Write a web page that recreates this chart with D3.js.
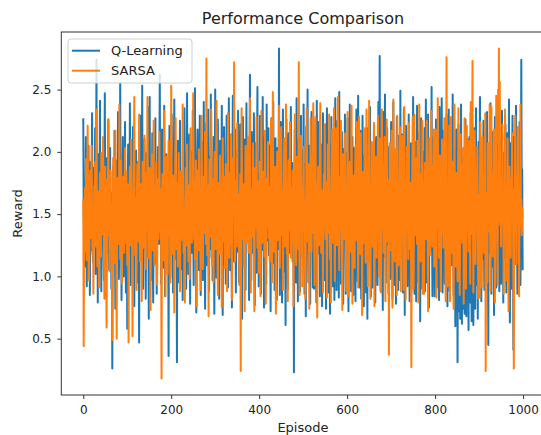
<!DOCTYPE html>
<html>
	<head>
		<meta charset="utf-8">
		<title>Performance Comparison</title>
		<script src="https://d3js.org/d3.v7.min.js"></script>
		<style>
			body { margin: 0; background: #fff; }
			text { font-family: "DejaVu Sans", sans-serif; fill: #222; }
		</style>
	</head>
	<body>
		<script>

			// reward per episode (index = episode)
			var qLearning = [
				2.27,1.52,1.31,1.74,1.08,1.63,2.12,1.45,0.92,1.57,1.81,1.38,2.05,1.26,1.69,0.85,1.48,1.92,1.59,1.21,2.31,1.44,1.12,1.66,1.87,
				1.33,1.58,2.19,1.02,1.47,2.74,1.39,1.71,0.79,1.55,1.98,1.28,1.62,2.41,1.17,1.5,0.88,1.84,1.43,1.66,2.08,1.24,0.97,1.76,2.47,
				1.36,1.6,0.83,1.49,1.95,1.18,1.72,2.26,1.41,1.05,1.58,2.03,1.3,1.67,0.9,1.53,0.26,1.44,1.88,1.62,1.15,2.17,1.37,0.74,1.7,
				1.55,1.93,1.22,1.46,2.32,1.64,0.98,1.4,1.81,2.55,1.27,1.6,0.81,1.49,1.75,2.12,1.34,1.0,1.69,1.52,2.24,1.29,0.87,1.73,1.45,
				0.58,1.64,2.06,1.39,1.78,1.19,2.39,1.51,0.93,1.67,1.85,1.32,1.56,2.2,1.1,1.48,0.76,1.82,1.6,1.37,2.01,1.25,1.73,0.95,1.58,
				1.92,1.35,0.47,1.53,1.76,2.29,1.42,1.13,1.65,2.53,1.31,0.9,1.7,1.54,2.1,1.23,1.84,0.82,1.47,1.99,1.61,1.16,2.36,1.4,0.66,
				1.74,2.44,1.28,1.56,0.97,1.83,1.46,2.15,1.2,0.79,1.62,1.91,1.37,1.68,2.27,1.11,1.5,0.86,1.79,1.43,2.04,1.58,1.26,1.89,2.62,
				1.31,1.7,0.94,1.52,2.18,1.39,1.85,1.07,1.63,2.37,1.45,0.84,1.71,1.58,1.98,1.29,1.1,1.75,1.5,0.36,1.66,2.21,1.42,0.99,1.8,
				1.57,2.3,1.24,1.69,0.87,1.48,1.93,2.42,1.35,1.62,1.14,1.81,1.45,0.31,1.72,2.09,1.4,1.55,0.95,1.87,2.25,1.3,1.64,1.06,1.78,
				1.43,0.81,1.6,1.95,1.27,2.35,1.52,1.12,1.74,0.9,1.66,2.47,1.38,1.57,1.02,1.83,2.14,1.34,0.78,1.62,1.48,2.0,1.19,1.71,2.33,
				1.47,0.93,1.81,1.55,2.51,1.3,1.68,0.71,1.42,1.92,2.18,1.24,1.59,1.05,1.77,2.29,1.44,0.85,1.63,1.36,2.08,1.5,0.97,1.74,2.4,
				1.28,1.65,0.74,1.51,2.23,1.37,1.84,1.09,1.6,2.34,1.43,0.88,1.7,1.96,1.22,2.46,1.55,1.15,1.79,0.97,1.48,2.12,1.33,0.7,1.67,
				2.5,1.41,1.73,0.99,1.56,1.9,2.26,1.32,1.64,0.82,1.47,2.09,1.76,1.21,1.58,2.37,1.35,0.69,1.82,1.52,2.2,1.1,1.69,1.44,0.94,
				1.86,2.29,1.39,1.61,0.91,1.75,2.43,1.27,1.53,1.05,1.88,2.14,1.44,0.75,1.66,2.45,1.31,1.57,1.12,1.8,2.18,1.4,0.87,1.7,2.01,
				1.46,1.2,2.33,1.62,0.95,1.5,1.79,2.22,1.36,1.68,1.1,0.66,1.55,2.28,1.43,1.85,1.25,2.1,1.6,0.89,1.73,2.39,1.34,1.54,2.04,
				1.3,1.63,0.81,1.77,2.62,1.41,1.58,0.97,2.16,1.49,1.87,1.19,1.64,2.31,1.37,0.77,1.72,2.07,1.45,1.03,1.91,2.52,1.26,1.6,0.92,
				1.83,1.52,2.29,1.35,0.86,1.67,1.99,1.44,2.44,1.21,1.58,0.75,1.76,2.13,1.4,1.62,0.94,2.38,1.5,1.29,1.85,2.19,1.17,1.69,2.05,
				1.36,0.72,1.64,2.27,1.48,1.8,1.11,2.4,1.55,1.74,0.89,1.93,2.11,1.41,1.6,0.81,2.03,1.47,1.86,1.22,2.83,1.53,0.85,1.7,2.24,
				1.42,1.62,0.79,1.98,2.34,1.5,1.73,1.04,2.08,1.43,0.61,1.78,2.26,1.37,1.67,0.9,1.94,2.15,1.46,1.19,1.85,1.59,2.36,1.28,1.6,
				1.91,1.12,1.51,1.7,0.23,1.56,2.18,1.44,1.84,0.95,2.43,1.4,1.65,0.8,1.97,2.1,1.52,1.33,0.88,1.79,2.29,1.47,1.16,1.75,2.01,
				1.44,2.38,1.36,0.86,1.9,1.58,0.68,2.2,1.48,1.73,2.5,1.32,0.95,1.67,2.05,1.41,0.78,1.88,1.56,2.32,1.27,1.62,0.91,1.96,1.47,
				0.9,1.8,2.13,1.42,1.64,0.79,2.41,1.55,1.18,1.87,2.24,1.35,1.6,0.84,1.93,1.46,2.06,1.71,0.76,1.52,2.31,1.38,1.78,0.97,1.6,
				2.22,1.33,0.74,1.69,2.35,1.5,1.84,0.87,1.58,2.07,1.42,0.7,1.95,1.57,2.28,1.21,1.73,0.92,2.14,1.46,1.62,0.81,1.99,2.43,1.34,
				1.55,0.89,1.96,2.25,1.43,1.74,0.83,2.48,1.52,1.26,1.85,0.94,1.67,2.16,1.41,1.6,0.78,2.02,1.48,1.8,2.3,1.29,0.86,1.71,1.99,
				1.37,2.27,1.56,0.72,1.82,1.45,2.38,1.18,1.63,0.88,1.97,1.51,2.12,1.33,0.85,1.75,2.03,1.44,1.58,0.8,1.92,2.34,1.4,1.66,0.96,
				2.45,1.47,1.77,0.91,1.54,2.17,1.36,0.82,1.89,1.56,2.29,1.22,1.71,0.76,1.97,1.46,2.08,1.6,0.87,1.83,1.41,0.66,2.19,1.55,1.74,
				1.12,1.91,2.36,1.38,0.84,1.68,2.05,1.5,0.91,1.86,1.43,2.23,1.27,1.59,0.79,1.96,2.12,1.4,1.72,0.93,1.57,2.4,1.31,1.81,2.77,
				1.33,0.88,1.79,2.1,1.45,1.65,0.73,2.32,1.52,1.16,1.91,2.46,1.38,0.95,1.7,1.48,2.19,1.26,1.83,0.86,1.57,2.04,1.42,0.98,1.88,
				2.24,1.32,1.6,0.82,1.94,2.4,1.42,1.73,0.93,2.01,1.5,0.78,1.85,2.28,1.3,1.55,0.89,2.13,1.45,1.69,0.97,2.49,1.37,1.78,1.16,
				1.49,2.14,0.87,1.72,2.35,1.4,0.69,1.9,1.51,2.21,1.24,1.63,0.92,1.98,1.44,2.3,1.33,0.8,1.84,1.56,2.07,1.46,0.9,1.75,1.52,
				2.44,1.28,1.66,0.86,1.88,2.08,1.43,0.8,1.73,2.37,1.36,1.52,0.95,2.15,1.48,1.8,0.64,1.95,2.27,1.4,1.61,0.9,2.0,1.53,1.22,
				1.76,2.19,0.88,1.53,2.42,1.45,0.95,1.82,1.31,2.3,1.6,0.75,1.91,1.5,2.04,1.2,1.7,2.52,1.38,0.84,1.87,1.55,2.12,1.27,0.84,
				1.96,1.47,2.26,1.18,0.91,1.68,2.11,1.41,1.81,0.81,2.36,1.57,1.14,1.93,1.45,2.43,1.29,0.87,1.74,2.17,1.39,1.6,0.94,2.0,1.51,
				1.22,2.3,1.59,0.76,1.88,1.44,2.34,1.32,0.88,1.79,2.09,1.48,1.09,1.95,1.53,2.46,1.33,0.85,1.71,2.02,1.42,0.6,1.64,2.18,1.46,
				1.84,0.31,1.62,2.22,0.72,1.9,1.45,0.66,1.77,2.38,1.38,0.62,1.95,1.55,0.74,2.03,1.6,0.7,1.86,2.26,1.29,0.68,1.95,1.5,2.1,
				1.38,0.57,1.73,2.12,0.79,1.86,2.31,1.2,0.64,1.6,2.0,1.47,0.61,1.79,2.19,1.27,0.74,1.65,2.35,0.93,1.91,1.42,0.66,1.71,2.08,
				1.05,1.84,2.44,1.32,1.58,0.8,1.97,1.5,1.14,1.76,2.25,1.41,0.89,1.69,2.13,1.47,1.08,1.88,2.32,1.24,1.55,0.45,2.02,1.52,1.19,
				1.81,2.39,1.35,0.86,1.7,2.16,1.44,1.08,1.92,0.69,1.62,2.28,1.3,1.53,0.91,2.06,1.49,1.13,1.78,2.5,1.34,0.88,1.66,2.1,1.45,
				0.94,1.85,2.33,1.25,1.59,0.79,1.99,1.51,1.15,1.74,2.22,1.4,0.87,1.7,2.15,1.47,1.07,1.83,2.42,1.28,0.63,1.57,2.07,1.43,0.9,
				1.77,2.29,1.33,0.41,1.64,2.12,1.46,1.1,1.89,2.37,1.23,1.55,0.86,1.96,1.5,1.16,1.8,2.24,1.39,0.93,1.72,2.74,1.48,1.86,1.05
			];

			var sarsa = [
				1.62,0.44,1.35,1.58,1.71,1.2,1.94,1.47,1.13,1.66,2.21,1.52,1.4,0.97,1.28,1.77,1.85,1.31,1.6,2.05,1.44,1.18,1.5,0.86,1.39,
				1.73,1.56,1.92,1.24,1.37,2.34,1.61,1.08,1.45,1.68,1.29,0.91,1.55,1.83,1.49,1.16,1.99,1.63,1.34,1.42,2.12,1.75,1.27,0.82,1.5,
				1.88,1.41,1.21,0.59,1.46,1.78,1.64,2.26,1.33,1.53,1.04,1.69,1.85,1.38,1.57,1.22,0.49,1.36,1.95,1.7,1.48,1.11,1.6,2.17,1.43,
				1.3,0.5,1.52,1.79,1.65,1.26,1.41,2.38,1.58,1.14,1.72,1.93,1.47,0.94,1.35,1.62,1.8,1.55,1.19,1.68,2.03,1.4,1.27,1.84,1.51,
				1.09,1.74,1.45,0.47,1.37,1.6,1.88,1.53,1.25,2.1,1.67,1.43,0.52,1.56,1.32,1.81,2.44,1.48,1.17,1.63,1.39,0.89,1.71,1.9,1.54,
				1.28,1.66,2.3,1.42,1.12,1.57,1.74,1.36,0.8,1.49,1.92,1.61,1.23,1.45,2.13,1.7,1.31,1.06,1.59,1.83,1.38,2.44,1.52,1.15,1.65,
				1.47,1.87,1.29,0.73,1.55,1.4,1.98,1.64,1.21,1.5,2.25,1.34,1.09,1.72,1.59,1.41,1.92,1.17,0.93,1.62,1.78,1.3,1.46,2.16,1.53,
				1.36,1.7,1.24,0.18,1.57,1.82,1.45,1.13,1.66,2.33,1.5,1.27,0.84,1.61,1.96,1.39,1.53,1.02,1.74,2.09,1.48,1.33,1.67,0.95,1.58,
				2.53,1.44,1.18,1.63,1.81,1.35,1.52,0.71,1.46,1.9,2.27,1.6,1.22,1.41,1.75,1.08,1.55,1.99,1.37,1.66,0.88,1.49,1.84,1.29,1.62,
				1.43,2.38,1.71,1.19,1.54,1.35,0.79,1.6,1.87,1.48,1.25,2.06,1.64,1.4,1.12,1.73,1.56,0.98,1.82,2.19,1.38,1.51,1.27,1.69,1.45,
				2.47,1.58,1.3,1.76,1.14,1.5,1.93,1.42,0.76,1.63,1.85,1.37,1.21,2.02,1.55,1.68,1.33,0.89,1.47,2.29,1.7,1.44,1.06,1.59,1.8,
				1.35,1.52,2.16,1.61,1.26,2.75,1.48,1.17,1.73,1.4,0.68,1.57,1.94,1.32,1.65,1.5,2.34,1.43,1.09,1.78,1.6,0.95,1.39,1.86,2.0,
				1.46,1.22,1.67,2.41,1.53,1.31,0.85,1.6,1.75,1.44,1.18,1.97,1.56,1.36,1.71,0.75,1.49,2.11,1.62,1.28,1.8,1.41,1.07,1.54,1.9,
				1.33,1.64,0.88,1.47,2.31,1.72,1.39,1.15,1.58,1.83,1.26,2.14,1.5,0.81,1.42,1.68,1.95,1.55,2.72,1.37,1.12,1.61,1.77,1.43,1.24,
				2.23,1.51,1.38,1.66,1.2,0.93,1.57,1.82,0.24,1.46,2.35,1.63,1.3,1.52,1.74,1.08,1.44,0.72,1.6,2.05,1.41,1.27,1.7,1.55,2.12,
				1.36,1.19,1.62,1.78,2.43,1.48,0.87,1.56,1.32,1.7,1.45,2.07,1.6,1.14,0.72,1.53,1.87,1.39,1.65,2.28,1.49,1.23,1.76,1.42,1.03,
				1.57,1.92,1.44,0.84,1.61,2.33,1.5,1.27,1.69,1.38,1.84,1.55,1.16,2.17,1.47,0.78,1.63,1.4,1.79,1.58,2.08,1.31,1.49,1.72,1.12,
				1.64,1.41,2.26,1.53,0.95,1.38,2.48,1.67,1.45,1.2,1.59,1.88,1.35,0.7,1.51,1.74,2.0,1.43,1.29,1.62,2.37,1.48,1.07,1.56,1.81,
				2.2,1.47,1.33,1.68,0.89,1.55,1.79,2.11,1.4,1.24,1.6,2.38,1.52,1.18,1.45,0.8,1.66,1.93,1.37,1.54,2.24,1.43,1.15,1.71,1.49,
				1.28,1.85,1.6,0.76,1.45,1.72,2.3,1.5,1.34,1.09,1.65,1.96,1.41,1.58,1.22,2.72,1.47,0.85,1.63,1.79,2.13,1.38,1.55,0.92,1.7,
				1.52,2.04,1.36,1.61,1.17,0.82,1.49,1.75,2.35,1.44,1.28,1.67,1.9,1.53,0.74,1.4,1.62,2.27,1.46,1.2,1.58,1.97,1.35,2.39,1.5,
				1.42,0.93,1.66,2.28,1.55,1.31,1.74,0.67,1.48,1.88,1.6,1.25,1.43,2.1,2.39,1.57,1.19,1.37,1.69,1.5,0.87,1.64,1.82,1.4,2.22,
				1.47,1.3,1.76,1.58,0.83,1.44,2.06,1.62,1.35,2.3,1.51,1.14,1.67,0.79,1.55,1.86,2.18,1.42,1.27,1.6,2.35,1.49,0.96,1.73,1.38,
				2.19,1.57,1.25,1.69,2.44,1.46,1.33,1.05,1.61,1.8,1.39,2.25,1.52,1.18,0.73,1.64,1.98,1.45,1.3,1.72,2.15,1.5,1.22,0.88,1.59,
				1.41,2.32,1.63,1.36,0.84,1.55,1.92,1.47,1.2,1.7,2.37,1.58,0.78,1.44,1.81,1.33,1.61,1.07,1.75,2.05,1.49,1.29,2.24,1.53,1.66,
				0.91,1.45,2.28,1.6,1.37,1.18,2.15,1.52,1.71,0.69,1.43,1.84,1.56,1.27,1.64,2.19,1.4,1.11,1.58,2.34,1.47,1.68,0.92,1.51,1.79,
				2.41,1.55,1.32,0.82,1.62,1.45,2.08,1.7,1.24,1.87,1.5,2.23,0.76,1.41,1.59,1.96,1.35,1.15,1.66,1.48,2.29,1.57,1.3,1.0,2.11,
				1.44,1.63,0.87,1.52,2.34,1.71,1.38,1.9,1.19,1.56,2.12,1.47,0.8,1.6,1.35,2.26,1.53,1.28,1.65,1.77,0.37,1.49,2.07,1.42,1.85,
				1.21,2.17,1.58,0.75,1.46,2.42,1.63,1.39,1.12,1.55,2.02,1.44,1.74,0.85,2.29,1.5,1.31,1.09,1.67,1.43,2.2,1.57,0.88,1.8,1.36,
				2.13,1.52,1.4,0.89,1.61,2.36,1.47,1.27,0.81,1.7,1.58,2.04,1.38,1.55,1.14,2.23,1.63,1.46,1.22,1.75,1.5,0.27,1.41,1.86,2.28,
				1.56,0.9,1.62,2.3,1.44,1.33,1.71,1.95,1.5,1.26,2.09,1.58,0.79,1.47,2.38,1.61,1.35,1.12,1.82,1.53,1.42,2.25,0.86,1.67,1.48,
				0.86,1.74,1.91,1.45,1.3,1.58,2.25,1.63,1.4,0.72,1.56,1.77,2.11,1.48,1.17,1.65,2.33,1.37,1.52,1.24,1.89,1.6,2.18,1.08,1.71,
				1.46,2.18,1.55,0.83,1.68,1.39,2.43,1.5,1.62,1.15,1.8,1.97,1.43,0.88,1.58,1.35,2.1,1.47,1.71,1.23,1.64,2.27,1.52,1.32,0.8,
				1.77,2.76,1.45,1.6,0.92,1.53,1.38,2.21,1.66,0.8,1.48,2.28,1.57,1.19,1.7,1.92,1.43,0.74,1.61,2.38,1.5,1.31,1.08,1.83,1.55,
				1.62,0.96,1.73,2.35,1.49,1.36,0.85,1.64,2.14,1.52,1.27,1.41,1.9,1.58,2.03,0.78,1.47,2.27,1.6,1.38,0.9,1.55,2.21,1.44,1.69,
				1.51,1.2,2.09,1.63,1.42,0.94,2.4,1.56,1.34,1.77,2.73,1.48,0.87,1.6,1.73,2.17,1.39,1.1,1.62,1.45,1.81,2.04,1.53,0.82,1.47,
				1.66,0.83,1.74,2.24,1.51,1.37,0.91,1.6,2.12,1.45,1.58,1.19,1.83,1.52,2.31,0.24,1.48,1.3,1.67,0.95,2.07,1.55,1.7,1.36,2.38,
				1.53,0.88,1.69,2.36,1.47,1.6,1.16,1.82,1.42,2.18,1.55,0.79,1.64,1.5,2.45,1.38,1.57,0.93,1.76,1.44,2.83,1.62,2.56,1.41,1.68,
				1.24,1.78,1.5,2.22,1.43,1.61,0.86,1.67,1.46,2.34,1.53,1.37,0.97,1.72,1.49,2.11,1.35,0.72,1.63,1.88,1.52,1.41,1.15,1.79,1.56,
				2.15,1.48,1.6,0.9,0.26,1.7,1.52,2.29,1.36,1.64,1.1,1.81,1.5,2.2,1.44,1.58,0.84,1.69,1.47,2.38,1.4,1.62,1.33,1.55,1.47
			];

			var series = [
				{name: "Q-Learning", values: qLearning, color: "#1f77b4"},
				{name: "SARSA", values: sarsa, color: "#ff7f0e"}
			];
			var xTicks = [0, 200, 400, 600, 800, 1000];
			var yTicks = [0.5, 1.0, 1.5, 2.0, 2.5];

			var width = 541, height = 435;
			// plot box (right edge falls just outside the picture, as in the reference)
			var plotLeft = 61.3, plotRight = 544.6, plotTop = 32, plotBottom = 395;

			var svg = d3.select("body").append("svg")
				.attr("width", width)
				.attr("height", height);

			// matplotlib style 5% margins around the data
			var n = qLearning.length - 1;
			var all = qLearning.concat(sarsa);
			var yMin = d3.min(all), yMax = d3.max(all);
			var pad = (yMax - yMin) * 0.05;

			var x = d3.scaleLinear()
				.domain([-n * 0.05, n * 1.05])
				.range([plotLeft, plotRight]);

			var y = d3.scaleLinear()
				.domain([yMin - pad, yMax + pad])
				.range([plotBottom, plotTop]);

			var line = d3.line()
				.x(function(d, i){ return x(i); })
				.y(function(d){ return y(d); });

			svg.selectAll("path.series")
				.data(series).enter().append("path")
				.attr("class", "series")
				.attr("fill", "none")
				.attr("stroke", function(d){ return d.color; })
				.attr("stroke-width", 2)
				.attr("stroke-linejoin", "round")
				.attr("d", function(d){ return line(d.values); });

			// frame
			svg.append("rect")
				.attr("x", plotLeft)
				.attr("y", plotTop)
				.attr("width", plotRight - plotLeft)
				.attr("height", plotBottom - plotTop)
				.attr("fill", "none")
				.attr("stroke", "#333")
				.attr("stroke-width", 1);

			var xAxis = svg.append("g")
				.attr("transform", "translate(0," + plotBottom + ")")
				.call(d3.axisBottom(x).tickValues(xTicks).tickSize(4).tickPadding(6.5).tickFormat(d3.format("d")));

			var yAxis = svg.append("g")
				.attr("transform", "translate(" + plotLeft + ",0)")
				.call(d3.axisLeft(y).tickValues(yTicks).tickSize(4).tickPadding(6).tickFormat(d3.format(".1f")));

			[xAxis, yAxis].forEach(function(a){
				a.select(".domain").remove();
				a.selectAll(".tick line").attr("stroke", "#333");
				a.selectAll(".tick text")
					.attr("fill", "#222")
					.style("font-family", "DejaVu Sans")
					.style("font-size", "12px");
			});

			svg.append("text")
				.attr("x", (plotLeft + plotRight) / 2)
				.attr("y", 23.5)
				.attr("text-anchor", "middle")
				.style("font-size", "16px")
				.text("Performance Comparison");

			svg.append("text")
				.attr("x", (plotLeft + plotRight) / 2)
				.attr("y", 432)
				.attr("text-anchor", "middle")
				.style("font-size", "13px")
				.text("Episode");

			svg.append("text")
				.attr("transform", "translate(22," + ((plotTop + plotBottom) / 2) + ") rotate(-90)")
				.attr("text-anchor", "middle")
				.style("font-size", "13px")
				.text("Reward");

			// legend
			var legend = svg.append("g");

			legend.append("rect")
				.attr("x", 68)
				.attr("y", 39)
				.attr("width", 124)
				.attr("height", 44)
				.attr("rx", 3)
				.attr("fill", "#fff")
				.attr("fill-opacity", 0.8)
				.attr("stroke", "#d0d0d0");

			var items = legend.selectAll("g.item")
				.data(series).enter().append("g")
				.attr("class", "item")
				.attr("transform", function(d, i){ return "translate(0," + (50.7 + i * 20) + ")"; });

			items.append("line")
				.attr("x1", 72)
				.attr("x2", 100)
				.attr("stroke", function(d){ return d.color; })
				.attr("stroke-width", 2);

			items.append("text")
				.attr("x", 111)
				.attr("y", 4.5)
				.style("font-size", "13px")
				.text(function(d){ return d.name; });

		</script>
	</body>
</html>
